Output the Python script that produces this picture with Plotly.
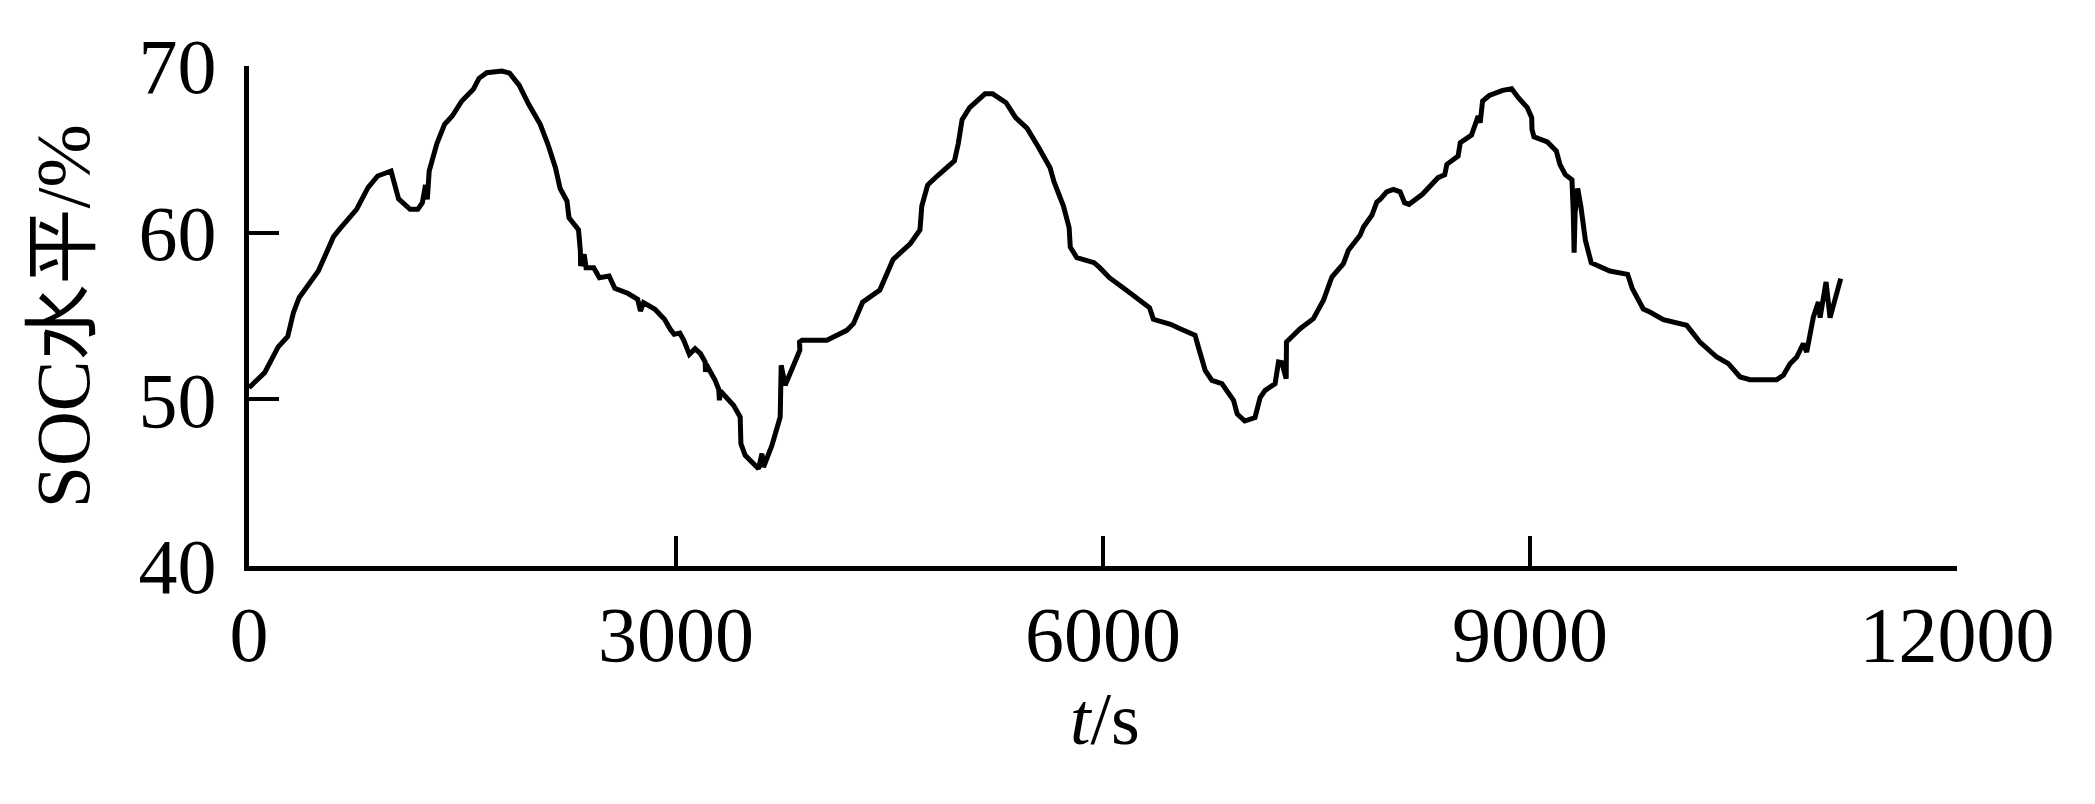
import plotly.graph_objects as go

# Time (s) and SOC level (%)
t_s = [0, 110, 205, 272, 312, 352, 487, 527, 594, 635, 756, 836, 904, 998, 1011,
       1051, 1132, 1186, 1218, 1240, 1253, 1266, 1320, 1374, 1428, 1495, 1576, 1616,
       1670, 1777, 1831, 1898, 1965, 2046, 2100, 2153, 2186, 2234, 2248, 2315, 2328,
       2330, 2355, 2368, 2422, 2462, 2530, 2570, 2664, 2731, 2750, 2772, 2852, 2919,
       2960, 2987, 3027, 3054, 3094, 3134,
       3172, 3205, 3207, 3212, 3275, 3300, 3305, 3312, 3404, 3451, 3456, 3486, 3580,
       3604, 3615, 3674, 3732, 3739, 3767, 3785, 3870, 3868, 3885, 4060, 4107, 4200,
       4247,
       4271, 4311, 4432, 4472, 4526, 4647, 4714, 4727, 4768, 4835, 4889, 4956, 4983,
       5010, 5063, 5131, 5171, 5225, 5319, 5386, 5466, 5547, 5628, 5655, 5722, 5762,
       5770, 5816, 5937, 5977, 6045, 6179, 6327, 6354, 6475,
       6542, 6647, 6670, 6718, 6765, 6835, 6917, 6943, 6996, 7068, 7104, 7139, 7209,
       7233, 7256, 7287, 7289, 7385, 7478, 7549, 7608, 7689, 7724, 7806, 7830, 7889,
       7924, 7947,
       7993, 8040, 8087, 8119, 8150, 8244, 8354, 8401, 8416, 8495, 8510, 8589, 8636,
       8650, 8667, 8714, 8808, 8871, 8918, 8981, 9012, 9014, 9028, 9122, 9185, 9210,
       9248, 9295, 9304, 9310, 9317, 9335, 9357, 9389, 9430, 9561, 9686, 9718, 9796,
       9842, 9937, 10101, 10194, 10312, 10394, 10476, 10546, 10733, 10780, 10827,
       10874, 10920, 10944, 10991, 11026, 11038, 11080, 11108, 11183]

soc = [50.7, 51.6, 53.15, 53.77, 55.2, 56.1, 57.7, 58.5, 59.76, 60.2, 61.4, 62.7, 63.4, 63.7, 63.3,
       62.03, 61.4, 61.4, 61.8, 62.86, 62.0, 63.7, 65.34, 66.5, 67.0, 67.9, 68.6, 69.26,
       69.6, 69.7, 69.57, 68.85, 67.7, 66.5, 65.3, 63.9, 62.65, 61.9, 60.9, 60.17, 58.9,
       58.0, 58.7, 57.9, 57.9, 57.3, 57.4, 56.66, 56.35, 56.0, 55.3, 55.8, 55.4, 54.8,
       54.2, 53.9, 53.97, 53.56, 52.7, 53.04,
       52.74, 52.24, 51.64, 52.1, 51.14, 50.6, 49.94, 50.5, 49.64, 48.94, 47.34, 46.64, 45.84,
       46.74, 45.94, 47.24, 48.94, 52.04, 50.84, 51.24, 52.94, 53.44, 53.54, 53.54, 53.74, 54.14,
       54.54,
       55.0, 55.83, 56.56, 57.3, 58.4, 59.35, 60.17, 61.6, 62.86, 63.4, 63.8, 64.3, 65.34,
       66.78, 67.5, 68.0, 68.33, 68.33, 67.8, 66.9, 66.27, 65.13, 63.9, 63.07, 61.6, 60.3,
       59.14, 58.5, 58.2, 57.9, 57.3, 56.45, 55.5, 54.8, 54.5,
       54.24, 53.84, 53.14, 51.74, 51.14, 50.94, 49.94, 49.12, 48.7, 48.91, 50.1, 50.54, 50.94,
       52.24, 52.2, 51.24, 53.44, 54.24, 54.84, 55.94, 57.34, 58.14, 58.94, 59.84, 60.34, 61.04,
       61.84, 62.0,
       62.45, 62.6, 62.45, 61.8, 61.7, 62.3, 63.3, 63.48, 64.1, 64.6, 65.4, 65.85, 67.0,
       66.6, 67.9, 68.23, 68.54, 68.64, 68.1, 67.5, 66.9, 66.2, 65.75, 65.44, 64.9, 64.1,
       63.48, 63.17, 61.2, 58.8, 61.2, 62.65, 61.6, 59.55, 58.2, 57.7, 57.5, 56.66, 55.42,
       55.24, 54.78, 54.44, 53.44, 52.54, 52.14, 51.34, 51.18, 51.18, 51.44, 52.14,
       52.54, 53.34, 52.84, 54.94, 55.84, 54.9, 57.04, 54.9, 57.24]

x_ticks = [0, 3000, 6000, 9000, 12000]
y_ticks = [40, 50, 60, 70]
x_title = "<i>t</i>/s"
y_title = "SOC水平/%"

FONT = "Liberation Serif, Times New Roman, Noto Sans CJK SC, serif"

fig = go.Figure()
fig.add_trace(go.Scatter(x=t_s, y=soc, mode="lines",
                         line=dict(color="black", width=5),
                         showlegend=False))

axis_common = dict(showline=True, linecolor="black", linewidth=5,
                   ticks="inside", ticklen=30, tickwidth=4, tickcolor="black",
                   showgrid=False, zeroline=False,
                   tickfont=dict(family=FONT, size=78, color="black"))

fig.update_xaxes(range=[0, 12000], tickvals=x_ticks,
                 ticktext=[str(v) for v in x_ticks],
                 ticklabelstandoff=-4, **axis_common)
fig.update_yaxes(range=[40, 70], tickvals=y_ticks,
                 ticktext=[str(v) for v in y_ticks],
                 ticklabelstandoff=12, **axis_common)

fig.add_annotation(text=x_title, xref="paper", yref="paper",
                   x=0.5013, y=-0.305, xanchor="center", yanchor="middle",
                   showarrow=False, font=dict(family=FONT, size=74, color="black"))
fig.add_annotation(text=y_title, xref="paper", yref="paper",
                   x=-0.1087, y=0.5, xanchor="center", yanchor="middle",
                   textangle=-90, showarrow=False,
                   font=dict(family=FONT, size=76, color="black"))

# the page body adds an 8 px offset, so the figure is sized to fit inside it
fig.update_layout(width=2079, height=788,
                  margin=dict(l=241, r=130, t=58, b=230, pad=0),
                  paper_bgcolor="white", plot_bgcolor="white")

fig.write_html("out.html")
